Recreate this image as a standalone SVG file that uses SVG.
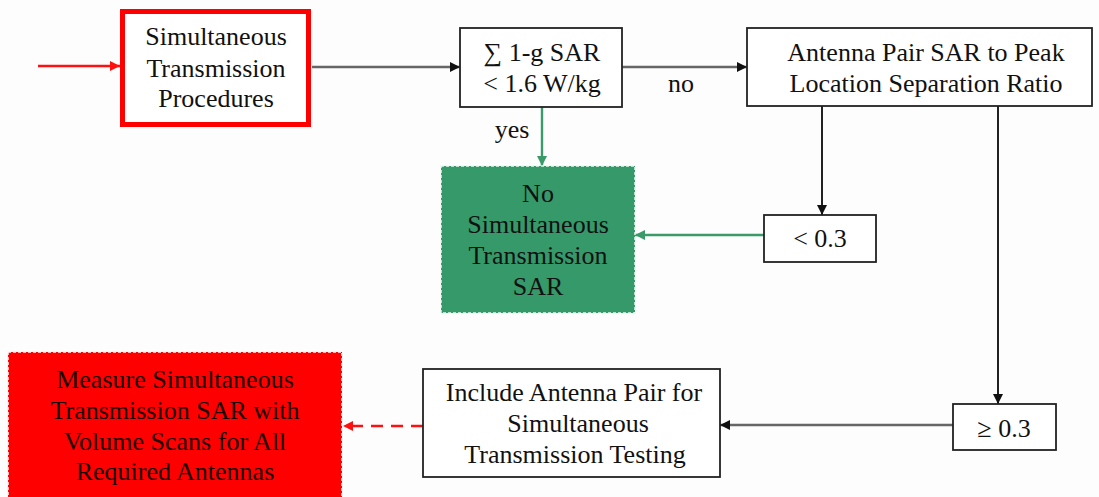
<svg xmlns="http://www.w3.org/2000/svg" width="1099" height="497" viewBox="0 0 1099 497">
<defs>
<style>
text{font-size:26px;text-anchor:middle;fill:#111}
.box{fill:#fff;stroke:#222;stroke-width:1.8}
.ln{fill:none;stroke:#222;stroke-width:2}
.gray{fill:none;stroke:#666;stroke-width:2.4}
.grn{fill:none;stroke:#3a9a6a;stroke-width:2.4}
.red{fill:none;stroke:#ff1010;stroke-width:2.4}
</style>
<marker id="ab" viewBox="0 0 10 10" refX="10" refY="5" markerWidth="11" markerHeight="10" markerUnits="userSpaceOnUse" orient="auto"><path d="M0,0 L10,5 L0,10 z" fill="#111"/></marker>
<marker id="ag" viewBox="0 0 10 10" refX="10" refY="5" markerWidth="11" markerHeight="10" markerUnits="userSpaceOnUse" orient="auto"><path d="M0,0 L10,5 L0,10 z" fill="#3a9a6a"/></marker>
<marker id="ar" viewBox="0 0 10 10" refX="10" refY="5" markerWidth="11" markerHeight="10" markerUnits="userSpaceOnUse" orient="auto"><path d="M0,0 L10,5 L0,10 z" fill="#ff1010"/></marker>
</defs>
<rect width="1099" height="497" fill="#fdfdfe"/>
<g font-family="Liberation Serif, Times New Roman, serif">
<g id="connectors">
<line class="red" x1="38" y1="66" x2="120" y2="66" marker-end="url(#ar)"/>
<line class="gray" x1="312" y1="67" x2="460" y2="67" marker-end="url(#ab)"/>
<line class="gray" x1="622" y1="67" x2="747" y2="67" marker-end="url(#ab)"/>
<text x="681" y="92">no</text>
<line class="grn" x1="542" y1="107" x2="542" y2="166" marker-end="url(#ag)"/>
<text x="512" y="138">yes</text>
<line class="ln" x1="822" y1="106" x2="822" y2="215" marker-end="url(#ab)"/>
<line class="grn" x1="764" y1="235" x2="635" y2="235" marker-end="url(#ag)"/>
<line class="ln" x1="998" y1="106" x2="998" y2="404" marker-end="url(#ab)"/>
<line class="gray" x1="953" y1="425" x2="720" y2="425" marker-end="url(#ab)"/>
<line class="red" x1="423" y1="426" x2="343" y2="426" stroke-dasharray="12 8" marker-end="url(#ar)"/>
</g>

<g id="n-stp">
<rect x="122.5" y="11.5" width="186" height="113" fill="#fff" stroke="#ff0000" stroke-width="5"/>
<text x="216" y="45">Simultaneous</text>
<text x="216" y="77">Transmission</text>
<text x="216" y="107">Procedures</text>
</g>

<g id="n-sum">
<rect class="box" x="460" y="28" width="162" height="79"/>
<text x="542" y="61">∑ 1-g SAR</text>
<text x="542" y="92">&lt; 1.6 W/kg</text>
</g>

<g id="n-ratio">
<rect class="box" x="747" y="28" width="345" height="78"/>
<text x="926" y="61">Antenna Pair SAR to Peak</text>
<text x="926" y="92">Location Separation Ratio</text>
</g>

<g id="n-nosim">
<rect x="441" y="166" width="194" height="147" fill="#35996a" stroke="#eef7f1" stroke-width="1.5" stroke-dasharray="3 2"/>
<text x="538" y="202">No</text>
<text x="538" y="233">Simultaneous</text>
<text x="538" y="264">Transmission</text>
<text x="538" y="295">SAR</text>
</g>

<g id="n-lt">
<rect class="box" x="764" y="215" width="112" height="47"/>
<text x="820" y="247">&lt; 0.3</text>
</g>

<g id="n-ge">
<rect class="box" x="953" y="404" width="103" height="46"/>
<text x="1004" y="437">≥ 0.3</text>
</g>

<g id="n-include">
<rect class="box" x="423" y="369" width="297" height="108"/>
<text x="574" y="401">Include Antenna Pair for</text>
<text x="578" y="432">Simultaneous</text>
<text x="575" y="463">Transmission Testing</text>
</g>

<g id="n-measure">
<rect x="8" y="352" width="334" height="150" fill="#ff0000" stroke="#fff3f3" stroke-width="1.5" stroke-dasharray="3 2"/>
<text x="175" y="388" style="fill:#1a0000">Measure Simultaneous</text>
<text x="175" y="419" style="fill:#1a0000">Transmission SAR with</text>
<text x="175" y="450" style="fill:#1a0000">Volume Scans for All</text>
<text x="175" y="480" style="fill:#1a0000">Required Antennas</text>
</g>
</g>
</svg>
